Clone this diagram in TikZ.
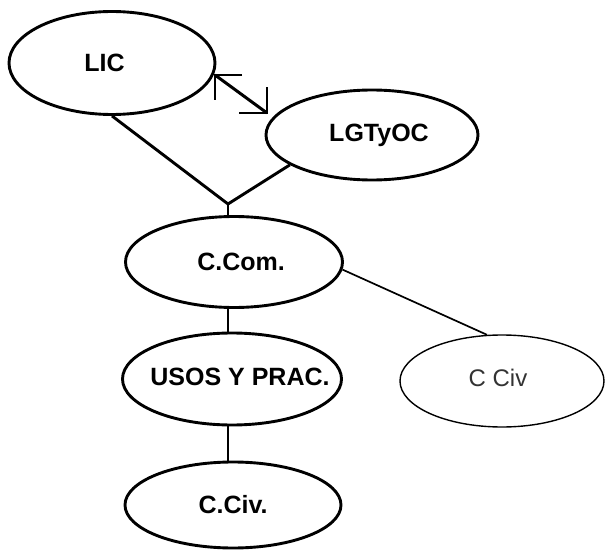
\documentclass[tikz,border=0pt]{standalone}
\usepackage{fontspec}
\setmainfont{Liberation Sans}
\usetikzlibrary{shapes.geometric}
\newcommand\tshift[3]{\makebox[0pt]{\hspace*{#1}\raisebox{#2}{#3}}}
\begin{document}
\begin{tikzpicture}[x=1pt,y=-1pt,
  oval/.style={draw,ellipse,line width=2.9pt,inner sep=0pt,font=\bfseries\fontsize{25}{29}\selectfont},
  thinoval/.style={draw,ellipse,line width=1.4pt,inner sep=0pt,text=black!80,font=\fontsize{24}{28}\selectfont},
  conn/.style={line width=2.9pt},
  thinconn/.style={line width=1.7pt}]
\useasboundingbox[fill=white] (0,0) rectangle (606,551);
\node[oval,minimum width=206pt,minimum height=103pt] (LIC) at (112,63) {\tshift{-15pt}{-5pt}{LIC}};
\node[oval,minimum width=212pt,minimum height=90pt] (LGT) at (372,135) {\tshift{14pt}{3pt}{LGTyOC}};
\node[oval,minimum width=217pt,minimum height=91pt] (CCom) at (234,262) {\tshift{14pt}{0pt}{C.Com.}};
\node[oval,minimum width=219pt,minimum height=92pt] (USOS) at (232,379) {\tshift{16pt}{4pt}{USOS Y PRAC.}};
\node[oval,minimum width=216pt,minimum height=86pt] (CCiv) at (233,505) {\tshift{0pt}{0pt}{C.Civ.}};
\node[thinoval,minimum width=204pt,minimum height=92pt] (CCivR) at (502,381) {\tshift{-8pt}{7pt}{C Civ}};
\coordinate (J) at (228,204);
\draw[conn] (LIC.south) -- (J);
\draw[conn] (LGT.200) -- (J);
\draw[conn] (J) -- (J |- CCom.north);
\draw[conn] (J |- CCom.south) -- (J |- USOS.north);
\draw[conn] (J |- USOS.south) -- (J |- CCiv.north);
\draw[thinconn] (CCom.-4) -- (CCivR.108);
% double arrow with right-angle barbs
\coordinate (A1) at (215,75);
\coordinate (A2) at (267,113);
\draw[line width=3pt] (A1) -- (A2);
\draw[line width=2.4pt] ([xshift=27pt]A1) -- (A1) -- ([yshift=-25pt]A1);
\draw[line width=2.4pt] ([xshift=-28pt]A2) -- (A2) -- ([yshift=26pt]A2);
\end{tikzpicture}
\end{document}
